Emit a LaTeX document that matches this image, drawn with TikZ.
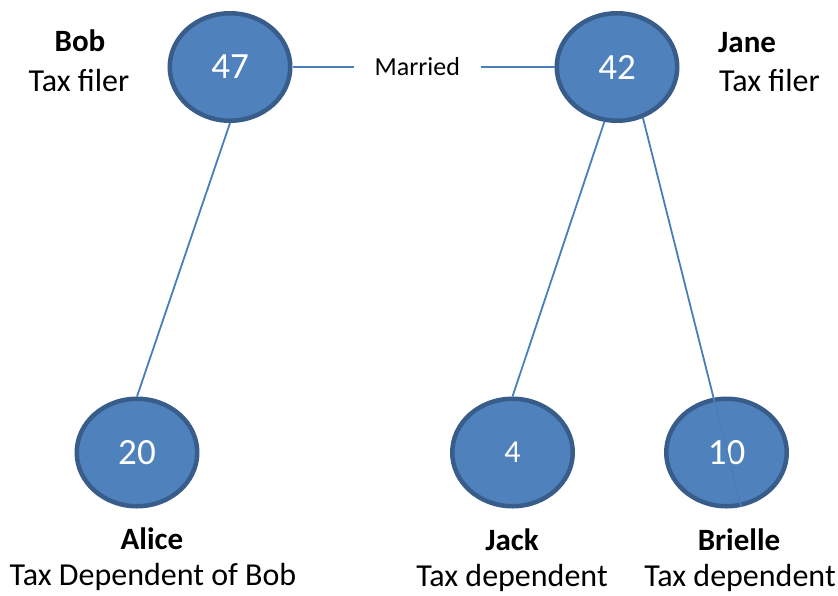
\documentclass[tikz,border=0pt]{standalone}
\usepackage{fontspec}
\setmainfont{Carlito}
\usetikzlibrary{shapes.geometric}
\definecolor{nodefill}{HTML}{4F81BD}
\definecolor{nodeedge}{HTML}{385D8A}
\definecolor{linkblue}{HTML}{4A7EBB}
\tikzset{
  person/.style={ellipse, draw=nodeedge, fill=nodefill, line width=4.5pt,
    minimum width=120.5pt, minimum height=107.5pt, inner sep=0pt,
    text=white, font=\fontsize{37}{42}\selectfont},
  link/.style={draw=linkblue, line width=1.8pt},
  namelbl/.style={anchor=base, inner sep=0pt, font=\fontsize{31}{36}\selectfont\bfseries},
  rolelbl/.style={anchor=base, inner sep=0pt, font=\fontsize{32}{37}\selectfont},
}
\begin{document}
\begin{tikzpicture}[x=1pt, y=-1pt]
\useasboundingbox (0,0) rectangle (838,595);
% people
\node[person] (p47) at (230,67) {47};
\node[person] (p42) at (617,67) {42};
\node[person] (p20) at (137,452.5) {20};
\node[person, font=\fontsize{32}{36}\selectfont] (p4) at (512.5,452.5) {4};
\node[person] (p10) at (726.5,452.5) {10};
% marriage link
\node[inner sep=0pt, minimum width=126.7pt, font=\fontsize{26}{31}\selectfont] (married) at (417.3,67) {Married};
\draw[link, line width=2pt] (p47.east) -- (married.west);
\draw[link, line width=2pt] (married.east) -- (p42.west);
% dependency links
\draw[link] (p47.south) -- (p20.north);
\draw[link] (p42.257) -- (p4.north);
\draw[link] (p42.297) -- (p10.285);
% labels
\node[namelbl] (bobn) at (80,51.7) {Bob};
\node[rolelbl] (bobr) at (79,91.7) {Tax filer};
\node[namelbl, anchor=base west] (janen) at (718,52) {Jane};
\node[rolelbl, anchor=base west] (janer) at (719,91.7) {Tax filer};
\node[namelbl] (alicen) at (152,549) {Alice};
\node[rolelbl] (alicer) at (153,585) {Tax Dependent of Bob};
\node[namelbl] (jackn) at (512,550) {Jack};
\node[rolelbl] (jackr) at (512,586) {Tax dependent};
\node[namelbl] (brien) at (739,550) {Brielle};
\node[rolelbl] (brier) at (740,586) {Tax dependent};
\end{tikzpicture}
\end{document}
